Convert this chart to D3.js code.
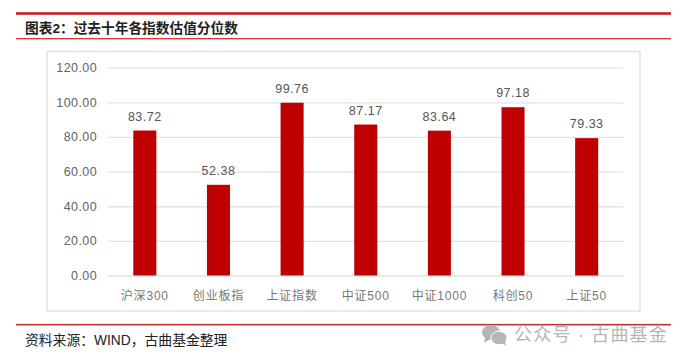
<!DOCTYPE html>
<html><head><meta charset="utf-8">
<script src="https://cdn.jsdelivr.net/npm/d3@7/dist/d3.min.js"></script>
<style>html,body{margin:0;padding:0;background:#fff}svg{display:block}
text{font-family:"Liberation Sans","Noto Sans CJK SC",sans-serif}</style></head>
<body><svg id="c" width="693" height="362"></svg>
<script>
const categories=["沪深300","创业板指","上证指数","中证500","中证1000","科创50","上证50"];
const values=[83.72,52.38,99.76,87.17,83.64,97.18,79.33];
const yTicks=[0,20,40,60,80,100,120];
const titleText="图表2\uFF1A过去十年各指数估值分位数";
const sourceText="资料来源\uFF1AWIND\uFF0C古曲基金整理";
const watermarkText="公众号 · 古曲基金";

const svg=d3.select("#c");
const fmt=d3.format(".2f");
const x=d3.scaleBand().domain(categories).range([108,623.5]).paddingInner(0.687).paddingOuter(0.3435);
const y=d3.scaleLinear().domain([0,120]).range([275.5,67.7]);

function rule(yy,w,col){svg.append("rect").attr("x",16).attr("width",655).attr("y",yy-w/2).attr("height",w).attr("fill",col);}
rule(13.5,2.6,"#c81e24");
rule(38.7,1.2,"#d9202a");
rule(324.7,1.6,"#c4302f");

svg.append("text").attr("x",25).attr("y",33).attr("font-size",13.7).attr("font-weight",700).attr("fill","#222").text(titleText);
svg.append("rect").attr("x",47).attr("y",51.5).attr("width",593).attr("height",259.5).attr("fill","#fff").attr("stroke","#e2e2e2").attr("stroke-width",1.5);

const yAxis=d3.axisLeft(y).tickValues(yTicks).tickSize(-515.5).tickPadding(11).tickFormat(fmt);
const gy=svg.append("g").attr("transform","translate(108,0)").call(yAxis);
gy.select(".domain").remove();
gy.selectAll(".tick line").attr("stroke","#e3e3e3").attr("stroke-width",1.3);
gy.selectAll(".tick text").attr("fill","#636363").attr("font-size",12.5).attr("letter-spacing",0.4).style("font-family",'"Liberation Sans",sans-serif');

svg.append("g").selectAll("rect").data(values).join("rect")
 .attr("x",(d,i)=>x(categories[i])).attr("width",x.bandwidth())
 .attr("y",d=>y(d)).attr("height",d=>y(0)-y(d)).attr("fill","#c00000");

svg.append("g").selectAll("text").data(values).join("text")
 .attr("x",(d,i)=>x(categories[i])+x.bandwidth()/2).attr("y",d=>y(d)-10)
 .attr("text-anchor","middle").attr("fill","#555").attr("font-size",12.5).attr("letter-spacing",0.5).text(fmt);

const xAxis=d3.axisBottom(x).tickSize(0).tickPadding(16);
const gx=svg.append("g").attr("transform","translate(0,275.5)").call(xAxis);
gx.select(".domain").remove();
gx.selectAll(".tick text").attr("fill","#777").attr("font-size",12).attr("letter-spacing",0.8).style("font-family",'"Liberation Sans","Noto Sans CJK SC",sans-serif');

svg.append("text").attr("x",25).attr("y",345).attr("font-size",13.8).attr("fill","#222").text(sourceText);

// watermark
const wm=svg.append("g").attr("fill","#b5b5b5");
wm.append("ellipse").attr("cx",491).attr("cy",332.5).attr("rx",9).attr("ry",7.5);
wm.append("path").attr("d",d3.line()([[485,338],[484,343],[490,339]]));
wm.append("ellipse").attr("cx",499).attr("cy",338).attr("rx",8).attr("ry",6.8).attr("stroke","#fff").attr("stroke-width",1);
wm.append("path").attr("d",d3.line()([[502,343],[506,346],[505,341]]));
wm.append("text").attr("x",514).attr("y",341).attr("font-size",18).attr("letter-spacing",1.2).text(watermarkText);
</script></body></html>
